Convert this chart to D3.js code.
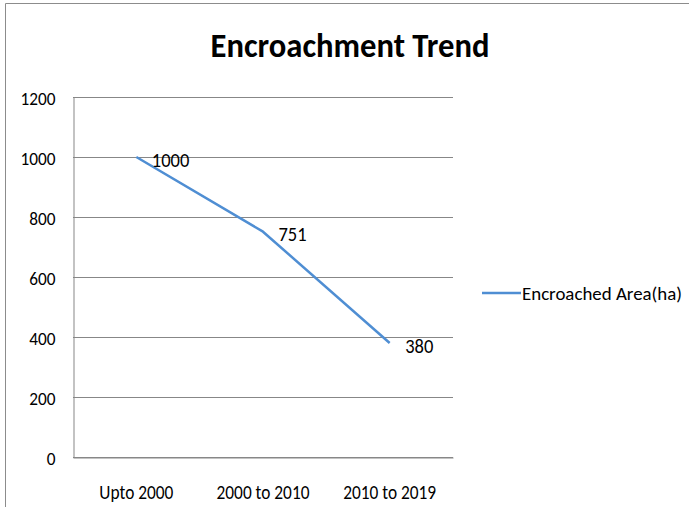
<!DOCTYPE html>
<html><head><meta charset="utf-8">
<script src="https://cdn.jsdelivr.net/npm/d3@7/dist/d3.min.js"></script>
<style>
html,body{margin:0;padding:0;background:#fff;}
svg{display:block;}
text{font-family:Carlito,"Liberation Sans Narrow","DejaVu Sans Condensed","Open Sans",sans-serif;fill:#000;}
</style></head>
<body>
<svg id="c" width="689" height="507"></svg>
<script>
const categories = ["Upto 2000", "2000 to 2010", "2010 to 2019"];
const values = [1000, 751, 380];
const yTicks = [0, 200, 400, 600, 800, 1000, 1200];
const seriesName = "Encroached Area(ha)";
const title = "Encroachment Trend";

const svg = d3.select("#c");
const W = 689, H = 507;
const m = {left: 73, right: 236, top: 97, bottom: 50};

// outer frame (cropped)
svg.append("path").attr("d", `M5.5,${H} L5.5,3.5 L${W},3.5`)
  .attr("fill","none").attr("stroke","#8c8c8c").attr("stroke-width",1);

const x = d3.scaleBand().domain(categories).range([m.left, W - m.right]);
const y = d3.scaleLinear().domain([0, 1200]).range([H - m.bottom, m.top]);

// gridlines
svg.append("g").selectAll("line").data(yTicks).join("line")
  .attr("x1", m.left).attr("x2", W - m.right)
  .attr("y1", d => Math.round(y(d)) + 0.5).attr("y2", d => Math.round(y(d)) + 0.5)
  .attr("stroke", "#878787").attr("stroke-width", 1);

// y axis
const ya = svg.append("g").attr("transform", `translate(${m.left + 0.5},0)`)
  .call(d3.axisLeft(y).tickValues(yTicks).tickFormat(d3.format("d")).tickSize(0).tickPadding(18));
ya.select(".domain").attr("stroke", "#878787");
ya.selectAll("text").attr("font-size", 17.5).attr("class", "ylab").attr("dy", "0.40em");

// x axis
const xa = svg.append("g").attr("transform", `translate(0,${Math.round(y(0)) + 0.5})`)
  .call(d3.axisBottom(x).tickSize(0).tickPadding(27));
xa.select(".domain").attr("stroke", "#878787");
xa.selectAll("text").attr("font-size", 21).attr("class", "xlab");

// line
const line = d3.line().x((d, i) => x(categories[i]) + x.bandwidth() / 2).y(d => y(d));
svg.append("path").datum(values).attr("d", line)
  .attr("fill", "none").attr("stroke", "#4F8ED3").attr("stroke-width", 2.5)
  .attr("stroke-linejoin", "round");

// data labels
svg.append("g").selectAll("text").data(values).join("text")
  .attr("class", "dlab")
  .attr("x", (d, i) => x(categories[i]) + x.bandwidth() / 2 + 15.5)
  .attr("y", d => y(d) + 2)
  .attr("dy", "0.36em")
  .attr("font-size", 21)
  .text(d => d);

// title
svg.append("text").attr("class", "title")
  .attr("x", 350).attr("y", 57).attr("text-anchor", "middle")
  .attr("font-size", 34).attr("font-weight", "bold").text(title);

// legend
const ly = 293;
svg.append("line").attr("x1", 482).attr("x2", 521).attr("y1", ly).attr("y2", ly)
  .attr("stroke", "#4F8ED3").attr("stroke-width", 2.5);
svg.append("text").attr("class", "leg").attr("x", 522).attr("y", ly).attr("dy", "0.38em")
  .attr("font-size", 18.5).text(seriesName);

// condense text to match reference widths
function fit(sel, refText, refWidth) {
  const nodes = sel.nodes();
  const ref = nodes.find(n => n.textContent === refText) || nodes[0];
  const k = refWidth / ref.getComputedTextLength();
  nodes.forEach(n => {
    const w = n.getComputedTextLength() * k;
    d3.select(n).attr("textLength", w).attr("lengthAdjust", "spacingAndGlyphs");
  });
}
fit(svg.selectAll("text.ylab"), "1200", 35);
fit(svg.selectAll("text.xlab"), "Upto 2000", 74);
fit(svg.selectAll("text.dlab"), "1000", 37.5);
fit(svg.selectAll("text.title"), title, 279);
fit(svg.selectAll("text.leg"), seriesName, 160);
</script>
</body></html>
